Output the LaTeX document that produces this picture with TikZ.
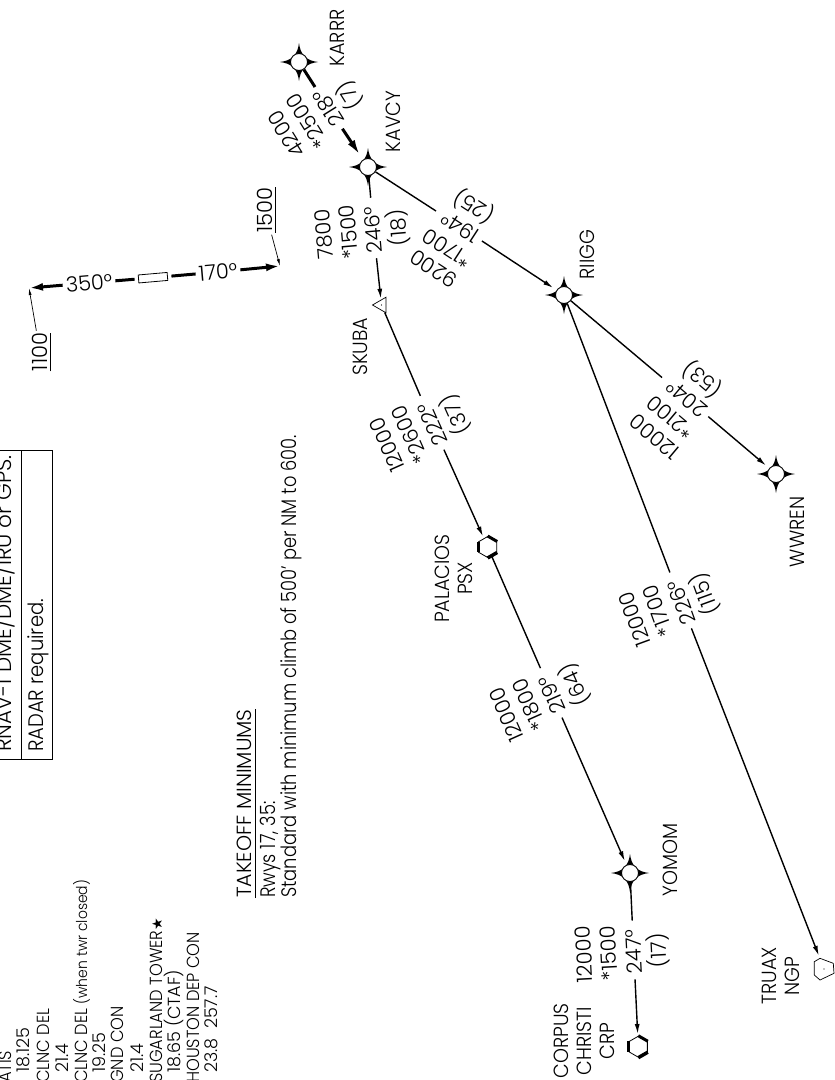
\documentclass[tikz,border=0pt]{standalone}
\usepackage{fontspec}
\setmainfont{Poppins Light}[FakeStretch=0.85]
\newfontfamily\capfont{Poppins Light}[FakeStretch=0.93]
\newfontfamily\numfont{Poppins Light}
\newfontfamily\symfont{DejaVu Sans}
\usetikzlibrary{arrows.meta,shapes.geometric}
\tikzset{
	chart/.style={inner sep=0pt, font=\fontsize{21}{23}\selectfont},
	wptname/.style={inner sep=0pt, rotate=90, align=center, font=\capfont\fontsize{20.5}{23}\selectfont},
	altlbl/.style={inner sep=0pt, rotate=90, inner ysep=3pt, font=\numfont\fontsize{21}{23}\selectfont},
	rwylbl/.style={inner ysep=0pt, inner xsep=3pt, rotate=5, font=\numfont\fontsize{21}{23}\selectfont},
	txtline/.style={chart, rotate=90, anchor=base west},
	freqline/.style={rotate=90, anchor=base west, inner sep=0pt, font=\capfont\fontsize{17.5}{19}\selectfont},
	leglbl/.style={font=\numfont\fontsize{21}{23}\selectfont, text height=15pt, text depth=0pt, inner ysep=4.75pt, inner xsep=5pt},
	fixpt/.style={circle, draw, fill=white, line width=.9pt, minimum size=17pt, inner sep=0pt},
	vorpt/.style={regular polygon, regular polygon sides=6, regular polygon rotate=30, draw, fill=white, line width=.8pt, minimum size=21pt, inner sep=0pt},
	leg/.style={line width=1.4pt, shorten >=4pt},
	legarrow/.style={leg, -{Latex[length=10pt,width=5pt]}},
	leader/.style={line width=.7pt, -{Latex[length=7pt,width=3pt]}},
	rwyline/.style={line width=3pt},
}
\begin{document}
\begin{tikzpicture}[x=1pt, y=-1pt]
	\useasboundingbox (0,0) rectangle (835,1080);
	\foreach \wp/\x/\y in {karrr/299/62, kavcy/368/167, riigg/564/295, wwren/776/474, yomom/630/873} {
		\fill[shift={(\x,\y)}] (0,-19) .. controls (1.5,-7) and (7,-1.5) .. (19,0) .. controls (7,1.5) and (1.5,7) .. (0,19) .. controls (-1.5,7) and (-7,1.5) .. (-19,0) .. controls (-7,-1.5) and (-1.5,-7) .. (0,-19) -- cycle;
		\node[fixpt] (\wp) at (\x,\y) {};
	}
	\node[regular polygon, regular polygon sides=3, regular polygon rotate=90, draw, line width=.7pt, minimum size=18pt, inner sep=0pt] (skuba) at (381.5,305) {};
	\fill (skuba.center) circle (.6);
	\node[vorpt] (psx) at (487.7,547) {};
	\node[vorpt] (crp) at (638.3,1046.7) {};
	\foreach \vor in {psx,crp} {
		\draw[line width=3pt] (\vor.corner 1) -- (\vor.corner 6);
		\draw[line width=3pt] (\vor.corner 2) -- (\vor.corner 3);
		\draw[line width=3.5pt] (\vor.corner 4) -- (\vor.corner 5);
	}
	\node[circle, minimum size=20pt, inner sep=0pt] (ngp) at (824,969) {};
	\draw[line width=.7pt] (814.3,961.7) -- (820,958.3) -- (833.3,963.3) -- (834,973.3) -- (820,980) -- (814.3,975) -- cycle;
	\fill (ngp.center) circle (.6);
	\foreach \lk/\ang/\x/\y/\topl/\midl/\hd/\dst in {
		a/122/328.5/108/4200/*2500/218/7,
		b/147/460.7/227/9200/*1700/194/25,
		c/95/373.5/230/7800/*1500/246/18,
		d/114/432.7/424.7/12000/*2600/222/37,
		e/140/686.7/398.3/12000/*2100/204/53,
		f/114/552/694.7/12000/*1800/219/64,
		g/110/681.3/602.3/12000/*1700/226/115,
		h/93/633.7/952/12000/*1500/247/17} {
		\node[leglbl, rotate=\ang] (hdg\lk) at (\x,\y) {\hd°};
		\node[leglbl, rotate=\ang, anchor=south] (mid\lk) at (hdg\lk.north) {\midl};
		\node[leglbl, rotate=\ang, anchor=south] (top\lk) at (mid\lk.north) {\topl};
		\node[leglbl, rotate=\ang, anchor=north] (dst\lk) at (hdg\lk.south) {(\dst)};
	}
	\draw[rwyline] (karrr) -- (hdga);
	\draw[rwyline, shorten >=5pt, -{Latex[length=16pt,width=8pt]}] (hdga) -- (kavcy);
	\draw[leg] (kavcy) -- (hdgb);
	\draw[legarrow] (hdgb) -- (riigg);
	\draw[leg] (kavcy) -- (hdgc);
	\draw[legarrow, shorten >=1pt] (hdgc) -- (skuba);
	\draw[leg] (skuba) -- (hdgd);
	\draw[legarrow, shorten >=2pt] (hdgd) -- (psx);
	\draw[leg] (riigg) -- (hdge);
	\draw[legarrow] (hdge) -- (wwren);
	\draw[leg] (psx) -- (hdgf);
	\draw[legarrow] (hdgf) -- (yomom);
	\draw[leg] (riigg) -- (hdgg);
	\draw[legarrow] (hdgg) -- (ngp);
	\draw[leg] (yomom) -- (hdgh);
	\draw[legarrow, shorten >=2pt] (hdgh) -- (crp);
	\node[wptname] (nkarrr) at (337.5,38) {KARRR};
	\node[wptname] (nkavcy) at (393.5,121.5) {KAVCY};
	\node[wptname] (nriigg) at (587.5,254.5) {RIIGG};
	\node[wptname] (nskuba) at (360,346.7) {SKUBA};
	\node[wptname] (nwwren) at (797.5,532) {WWREN};
	\node[wptname] (nyomom) at (670.5,860) {YOMOM};
	\node[wptname] (npsx) at (454,578.5) {PALACIOS\\PSX};
	\node[wptname] (nngp) at (781,976) {TRUAX\\NGP};
	\node[wptname] (ncrp) at (584.5,1041) {CORPUS\\CHRISTI\\CRP};
	\node[draw, line width=.8pt, minimum width=29pt, minimum height=8pt, inner sep=0pt, outer sep=4pt, rotate=5] (rwy) at (153,277.7) {};
	\node[rwylbl] (hdg350) at (89,283) {350°};
	\node[rwylbl] (hdg170) at (218,272) {170°};
	\coordinate (tip350) at (29,288);
	\coordinate (tip170) at (280,266);
	\draw[rwyline] (rwy) -- (hdg350);
	\draw[rwyline] (rwy) -- (hdg170);
	\draw[rwyline, -{Latex[length=14pt,width=8pt]}] (hdg350) -- (tip350);
	\draw[rwyline, -{Latex[length=14pt,width=8pt]}] (hdg170) -- (tip170);
	\node[altlbl] (alt1500) at (265,210) {1500};
	\node[altlbl] (alt1100) at (40,352) {1100};
	\foreach \u in {alt1500,alt1100} {
		\draw[line width=.9pt] (\u.south west) -- (\u.south east);
	}
	\draw[leader, shorten <=2pt] (alt1500) -- (tip170);
	\draw[leader, shorten <=2pt] (alt1100) -- (tip350);
	\node[inner sep=0pt, inner ysep=3pt, rotate=90, anchor=base west, font=\numfont\fontsize{20.5}{23}\selectfont] (tkoff) at (251.7,898) {TAKEOFF MINIMUMS};
	\draw[line width=.8pt] (tkoff.south west) -- (tkoff.south east);
	\node[txtline] (rwys) at (275,898) {Rwys 17, 35:};
	\node[txtline] (stdclimb) at (296.7,898) {Standard with minimum climb of 500’ per NM to 600.};
	\draw[line width=.9pt] (-10,450) rectangle (52,759);
	\draw[line width=.9pt] (21,450) -- (21,759);
	\node[txtline, font=\numfont\fontsize{21.5}{23}\selectfont] (rnav) at (11.7,752) {RNAV-1 DME/DME/IRU or GPS.};
	\node[txtline, font=\capfont\fontsize{21}{23}\selectfont] (radar) at (43,752) {RADAR required.};
	\foreach \fq/\x/\y/\t in {
		a/11.7/1083/ATIS, b/30/1073/{\numfont 18.125}, c/49/1083/CLNC DEL, d/68/1073/{\numfont 21.4},
		e/87/1083/CLNC DEL {\fontsize{15}{17}\selectfont(when twr closed)}, f/105/1073/{\numfont 19.25},
		g/123/1083/GND CON, h/143/1073/{\numfont 21.4}, i/162/1083/SUGARLAND TOWER{\symfont\fontsize{14}{15}\selectfont★},
		j/180/1073/{\numfont 18.65 (CTAF)}, k/199/1083/HOUSTON DEP CON, l/217/1073/{\numfont 23.8\ \ 257.7}} {
		\node[freqline] (frq\fq) at (\x,\y) {\t};
	}
\end{tikzpicture}
\end{document}
